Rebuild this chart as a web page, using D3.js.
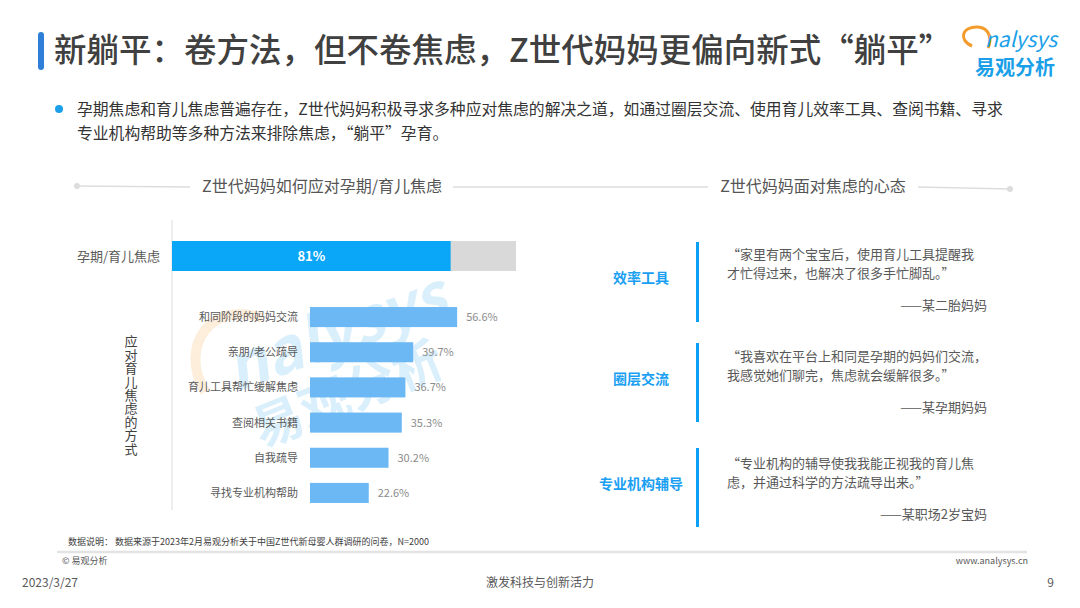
<!DOCTYPE html>
<html>
<head>
<meta charset="utf-8">
<script src="https://cdn.jsdelivr.net/npm/d3@7"></script>
<style>
  body { margin: 0; background: #fff; }
  svg text { font-family: "Noto Sans CJK SC", "Noto Sans", sans-serif; }
</style>
</head>
<body>
<div id="chart"></div>
<script>
var width = 1080;
var height = 608;

// data
var totalLabel = "孕期/育儿焦虑";
var totalValue = 81;
var methods = ["和同阶段的妈妈交流", "亲朋/老公疏导", "育儿工具帮忙缓解焦虑", "查阅相关书籍", "自我疏导", "寻找专业机构帮助"];
var methodValues = [56.6, 39.7, 36.7, 35.3, 30.2, 22.6];
var quoteTopics = ["效率工具", "圈层交流", "专业机构辅导"];
var quoteLines = [
  ["“家里有两个宝宝后，使用育儿工具提醒我", "才忙得过来，也解决了很多手忙脚乱。”"],
  ["“我喜欢在平台上和同是孕期的妈妈们交流，", "我感觉她们聊完，焦虑就会缓解很多。”"],
  ["“专业机构的辅导使我我能正视我的育儿焦", "虑，并通过科学的方法疏导出来。”"]
];
var quoteAuthors = ["——某二胎妈妈", "——某孕期妈妈", "——某职场2岁宝妈"];

var svg = d3.select("#chart").append("svg")
    .attr("width", width)
    .attr("height", height);

// title
svg.append("rect").attr("x", 38).attr("y", 32).attr("width", 6).attr("height", 38)
    .attr("rx", 3).attr("fill", "#2f7fd8");
svg.append("text").attr("x", 54).attr("y", 62)
    .attr("font-size", 32.5).attr("font-weight", 500).attr("fill", "#404040")
    .text("新躺平：卷方法，但不卷焦虑，Z世代妈妈更偏向新式“躺平”");

// logo
svg.append("path")
    .attr("d", "M972,46 C958,40 962,26 978,27 C990,28 992,40 988,48")
    .attr("fill", "none").attr("stroke", "#f39c2c").attr("stroke-width", 3);
svg.append("text").attr("x", 985).attr("y", 47).attr("font-size", 21)
    .attr("font-style", "italic").attr("fill", "#1a9fe8").text("nalysys");
svg.append("text").attr("x", 975).attr("y", 75).attr("font-size", 20)
    .attr("font-weight", 700).attr("fill", "#1a9fe8").text("易观分析");

// intro bullet
svg.append("circle").attr("cx", 59).attr("cy", 109).attr("r", 4).attr("fill", "#1a9fe8");
svg.append("text").attr("x", 77).attr("y", 115).attr("font-size", 15.8).attr("fill", "#333")
    .text("孕期焦虑和育儿焦虑普遍存在，Z世代妈妈积极寻求多种应对焦虑的解决之道，如通过圈层交流、使用育儿效率工具、查阅书籍、寻求");
svg.append("text").attr("x", 77).attr("y", 139).attr("font-size", 15.8).attr("fill", "#333")
    .text("专业机构帮助等多种方法来排除焦虑，“躺平”孕育。");

// section headers
var hdr = svg.append("g").attr("stroke", "#ddd").attr("stroke-width", 1.5);
hdr.append("line").attr("x1", 77).attr("y1", 186).attr("x2", 190).attr("y2", 187);
hdr.append("line").attr("x1", 453).attr("y1", 187).attr("x2", 708).attr("y2", 187);
hdr.append("line").attr("x1", 918).attr("y1", 187).attr("x2", 1010).attr("y2", 189);
svg.append("circle").attr("cx", 77).attr("cy", 186).attr("r", 3).attr("fill", "#ddd");
svg.append("circle").attr("cx", 1010).attr("cy", 189).attr("r", 3).attr("fill", "#ddd");
svg.append("text").attr("x", 322).attr("y", 192).attr("text-anchor", "middle")
    .attr("font-size", 16).attr("fill", "#555").text("Z世代妈妈如何应对孕期/育儿焦虑");
svg.append("text").attr("x", 813).attr("y", 192).attr("text-anchor", "middle")
    .attr("font-size", 16).attr("fill", "#555").text("Z世代妈妈面对焦虑的心态");

// watermark
var wm = svg.append("g").attr("opacity", 0.16);
wm.append("path").attr("d", "M205,392 C178,345 212,300 262,318")
    .attr("fill", "none").attr("stroke", "#f39c2c").attr("stroke-width", 10);
wm.append("text").attr("transform", "translate(236,392) rotate(-20)")
    .attr("font-size", 62).attr("font-weight", 700).attr("font-style", "italic")
    .attr("fill", "#1a9fe8").text("nalysys");
wm.append("text").attr("transform", "translate(262,448) rotate(-22)")
    .attr("font-size", 50).attr("font-weight", 700)
    .attr("fill", "#1a9fe8").text("易观分析");

// top bar (overall)
var axisX = 172;
var xTop = d3.scaleLinear().domain([0, 100]).range([axisX, 516]);
svg.append("line").attr("x1", axisX).attr("y1", 220).attr("x2", axisX).attr("y2", 510)
    .attr("stroke", "#ddd").attr("stroke-width", 1);
svg.append("rect").attr("x", xTop(0)).attr("y", 241)
    .attr("width", xTop(100) - xTop(0)).attr("height", 30).attr("fill", "#d9d9d9");
svg.append("rect").attr("x", xTop(0)).attr("y", 241)
    .attr("width", xTop(totalValue) - xTop(0)).attr("height", 30).attr("fill", "#0aa6f7");
svg.append("text").attr("x", (xTop(0) + xTop(totalValue)) / 2).attr("y", 261)
    .attr("text-anchor", "middle").attr("font-size", 13).attr("font-weight", 700)
    .attr("fill", "#fff").text(totalValue + "%");
svg.append("text").attr("x", 160).attr("y", 261).attr("text-anchor", "end")
    .attr("font-size", 13).attr("fill", "#595959").text(totalLabel);

// vertical label
svg.append("text")
    .attr("x", 131).attr("y", 335)
    .style("writing-mode", "vertical-rl")
    .attr("font-size", 13).attr("letter-spacing", 0.4).attr("fill", "#404040")
    .text("应对育儿焦虑的方式");

// method bars
var xScale = d3.scaleLinear().domain([0, 100]).range([310, 570]);
var yScale = d3.scaleBand().domain(methods).range([300, 510]).paddingInner(0.43).paddingOuter(0.2);

var rows = svg.append("g").selectAll("g").data(methods).enter().append("g")
    .attr("transform", function (d) { return "translate(0," + yScale(d) + ")"; });
rows.append("rect")
    .attr("x", xScale(0))
    .attr("width", function (d, i) { return xScale(methodValues[i]) - xScale(0); })
    .attr("height", yScale.bandwidth())
    .attr("fill", "#6cb8f4");
rows.append("text")
    .attr("x", 298).attr("y", yScale.bandwidth() / 2 + 4)
    .attr("text-anchor", "end").attr("font-size", 11).attr("fill", "#595959")
    .text(function (d) { return d; });
rows.append("text")
    .attr("x", function (d, i) { return xScale(methodValues[i]) + 9; })
    .attr("y", yScale.bandwidth() / 2 + 4)
    .attr("font-size", 11).attr("fill", "#8c8c8c")
    .text(function (d, i) { return methodValues[i].toFixed(1) + "%"; });

// quotes
var quoteTop = [242, 343, 448];
var quoteH = [80, 79, 79];
var textTop = [13, 14, 16];
var q = svg.append("g").selectAll("g").data(quoteTopics).enter().append("g")
    .attr("transform", function (d, i) { return "translate(0," + quoteTop[i] + ")"; });
q.append("rect").attr("x", 696).attr("y", 0).attr("width", 3)
    .attr("height", function (d, i) { return quoteH[i]; }).attr("fill", "#0aa0f5");
q.append("text").attr("x", 641).attr("y", function (d, i) { return quoteH[i] / 2 + 1; })
    .attr("text-anchor", "middle").attr("font-size", 14).attr("font-weight", 700)
    .attr("fill", "#1a9ff2").text(function (d) { return d; });
q.each(function (d, i) {
    var g = d3.select(this);
    var top = textTop[i];
    quoteLines[i].forEach(function (line, j) {
        g.append("text").attr("x", 727).attr("y", top + 4 + j * 19)
            .attr("font-size", 13).attr("fill", "#595959").text(line);
    });
    g.append("text").attr("x", 987).attr("y", top + 55)
        .attr("text-anchor", "end").attr("font-size", 13).attr("fill", "#595959")
        .text(quoteAuthors[i]);
});

// footer
svg.append("text").attr("x", 68).attr("y", 545).attr("font-size", 9).attr("fill", "#404040")
    .text("数据说明：  数据来源于2023年2月易观分析关于中国Z世代新母婴人群调研的问卷，N=2000");
svg.append("line").attr("x1", 57).attr("y1", 552).attr("x2", 1027).attr("y2", 552)
    .attr("stroke", "#e3e3e3").attr("stroke-width", 2.5);
svg.append("text").attr("x", 62).attr("y", 564).attr("font-size", 9).attr("fill", "#595959")
    .text("© 易观分析");
svg.append("text").attr("x", 1028).attr("y", 564).attr("text-anchor", "end")
    .attr("font-size", 9).attr("fill", "#595959").text("www.analysys.cn");
svg.append("text").attr("x", 22).attr("y", 587).attr("font-size", 12).attr("fill", "#595959")
    .text("2023/3/27");
svg.append("text").attr("x", 540).attr("y", 587).attr("text-anchor", "middle")
    .attr("font-size", 12).attr("fill", "#595959").text("激发科技与创新活力");
svg.append("text").attr("x", 1054).attr("y", 587).attr("text-anchor", "end")
    .attr("font-size", 12).attr("fill", "#595959").text("9");
</script>
</body>
</html>
